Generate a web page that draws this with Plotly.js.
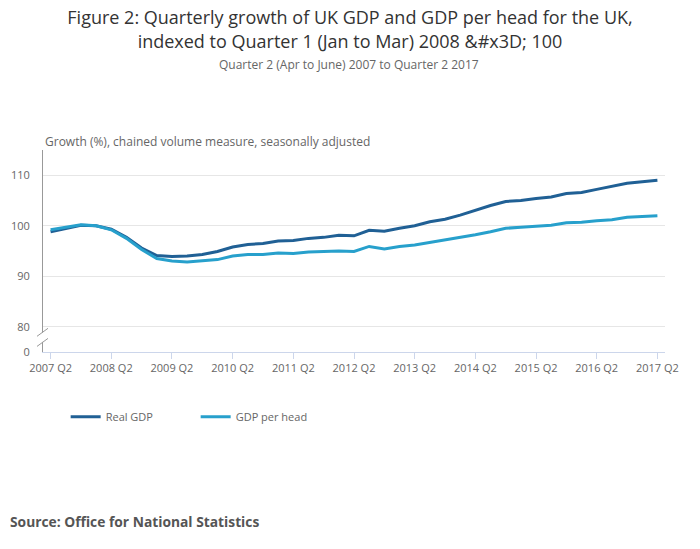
<!DOCTYPE html>
<html>
<head>
<meta charset="utf-8">
<script src="https://cdn.plot.ly/plotly-3.0.1.min.js"></script>
<style>
  html, body { margin: 0; padding: 0; background: #fff; }
  #chart { width: 700px; height: 549px; }
</style>
</head>
<body>
<div id="chart"></div>
<script>
// Quarter labels, 2007 Q2 to 2017 Q2
var quarters = [];
for (var yr = 2007; yr <= 2017; yr++) {
    ['Q1', 'Q2', 'Q3', 'Q4'].forEach(function(q) {
        var label = yr + ' ' + q;
        if (!(yr === 2007 && q === 'Q1') && !(yr === 2017 && (q === 'Q3' || q === 'Q4'))) {
            quarters.push(label);
        }
    });
}

// Index values (2008 Q1 = 100)
var realGdp = [
    98.8, 99.5, 100.1, 100.0, 99.3, 97.7, 95.6, 94.1, 93.9, 94.0,
    94.3, 94.9, 95.8, 96.3, 96.5, 97.0, 97.1, 97.5, 97.7, 98.1,
    98.0, 99.1, 98.9, 99.5, 100.0, 100.8, 101.3, 102.1, 103.1, 104.0,
    104.8, 105.0, 105.4, 105.7, 106.4, 106.6, 107.2, 107.8, 108.4, 108.7,
    109.0
];
var gdpPerHead = [
    99.2, 99.7, 100.2, 100.0, 99.2, 97.5, 95.3, 93.5, 93.0, 92.8,
    93.0, 93.3, 94.0, 94.3, 94.3, 94.6, 94.5, 94.8, 94.9, 95.0,
    94.9, 95.9, 95.4, 95.9, 96.2, 96.7, 97.1, 97.6, 98.2, 98.8,
    99.5, 99.7, 99.9, 100.1, 100.6, 100.7, 101.0, 101.2, 101.7, 101.9,
    102.0
];

// Tick labels
var xTicks = ['2007 Q2', '2008 Q2', '2009 Q2', '2010 Q2', '2011 Q2', '2012 Q2',
              '2013 Q2', '2014 Q2', '2015 Q2', '2016 Q2', '2017 Q2'];
// the axis is broken between 0 and 80, so "0" sits at 75 on the plotted scale
var yTickVals = [75, 80, 90, 100, 110];
var yTickText = ['0', '80', '90', '100', '110'];

var font = 'Open Sans, sans-serif';

var traces = [
    {
        x: quarters,
        y: realGdp,
        mode: 'lines',
        name: 'Real GDP',
        line: { color: '#206095', width: 3 },
        hoverinfo: 'x+y+name'
    },
    {
        x: quarters,
        y: gdpPerHead,
        mode: 'lines',
        name: 'GDP per head',
        line: { color: '#27a0cc', width: 3 },
        hoverinfo: 'x+y+name'
    }
];

// little "//" axis-break marker on the y axis
function breakSlash(yAnchor) {
    return {
        type: 'line',
        xref: 'paper', xsizemode: 'pixel', xanchor: 0,
        yref: 'y', ysizemode: 'pixel', yanchor: yAnchor,
        x0: -6, x1: 5, y0: -4, y1: 4,
        line: { color: '#999', width: 1 }
    };
}

var layout = {
    width: 700,
    height: 549,
    margin: { l: 43, r: 35, t: 150, b: 197 },
    paper_bgcolor: '#fff',
    plot_bgcolor: '#fff',
    font: { family: font, color: '#666', size: 11 },
    title: {
        text: 'Figure 2: Quarterly growth of UK GDP and GDP per head for the UK,<br>indexed to Quarter 1 (Jan to Mar) 2008 &amp;#x3D; 100',
        font: { family: font, size: 18, color: '#333' },
        x: 0.5,
        xanchor: 'center',
        yref: 'container',
        y: 0.956,
        yanchor: 'top'
    },
    xaxis: {
        type: 'category',
        range: [-0.5, 40.5],
        tickvals: xTicks,
        ticktext: xTicks,
        ticks: 'outside',
        ticklen: 6,
        tickcolor: '#ccd6eb',
        showline: true,
        linecolor: '#ccd6eb',
        linewidth: 1,
        showgrid: false,
        zeroline: false,
        tickfont: { family: font, size: 11, color: '#666' }
    },
    yaxis: {
        range: [75, 115],
        tickvals: yTickVals,
        ticktext: yTickText,
        ticks: '',
        ticklabelstandoff: 10,
        showline: true,
        linecolor: '#999',
        linewidth: 1,
        showgrid: true,
        gridcolor: '#e6e6e6',
        zeroline: false,
        tickfont: { family: font, size: 11, color: '#666' }
    },
    showlegend: true,
    legend: {
        orientation: 'h',
        x: 0.03 + 4 / 622,
        xanchor: 'left',
        y: -0.32,
        yanchor: 'middle',
        entrywidth: 85,
        entrywidthmode: 'pixels',
        font: { family: font, size: 11, color: '#666' }
    },
    shapes: [
        // white gap in the y axis line where the break is
        {
            type: 'rect',
            xref: 'paper', xsizemode: 'pixel', xanchor: 0,
            yref: 'y',
            x0: -2, x1: 2, y0: 77.0, y1: 78.8,
            fillcolor: '#fff',
            line: { width: 0 }
        },
        breakSlash(78.9),
        breakSlash(76.9)
    ],
    annotations: [
        {
            text: 'Quarter 2 (Apr to June) 2007 to Quarter 2 2017',
            xref: 'paper', yref: 'paper',
            x: 0.5 - (5 / 622), y: 1.425,
            xanchor: 'center', yanchor: 'middle',
            showarrow: false,
            font: { family: font, size: 12, color: '#666' }
        },
        {
            text: 'Growth (%), chained volume measure, seasonally adjusted',
            xref: 'paper', yref: 'paper',
            x: 0, y: 1,
            xanchor: 'left', yanchor: 'bottom',
            yshift: -2,
            showarrow: false,
            font: { family: font, size: 12, color: '#666' }
        },
        {
            text: '<b>Source: Office for National Statistics</b>',
            xref: 'paper', yref: 'paper',
            x: -35 / 622, y: -0.84,
            xanchor: 'left', yanchor: 'middle',
            showarrow: false,
            font: { family: font, size: 13.8, color: '#555' }
        }
    ]
};

Plotly.newPlot('chart', traces, layout, { displayModeBar: false, responsive: false });
</script>
</body>
</html>
